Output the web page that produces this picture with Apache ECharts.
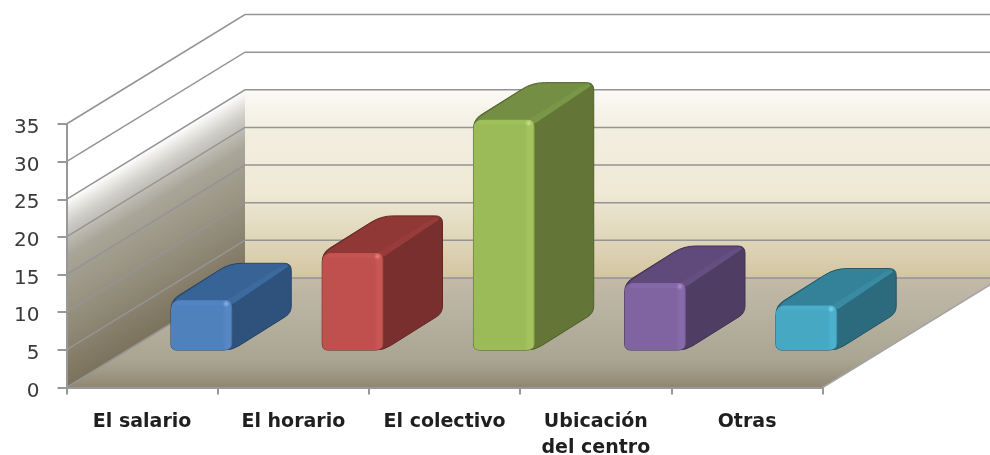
<!DOCTYPE html>
<html>
<head>
<meta charset="utf-8">
<style>html,body{margin:0;padding:0;background:#fff}#c{width:990px;height:455px}</style>
<script src="https://cdn.jsdelivr.net/npm/echarts@6/dist/echarts.min.js"></script>
</head>
<body>
<div id="c"></div>
<script>
const categories = ['El salario', 'El horario', 'El colectivo', 'Ubicación\ndel centro', 'Otras'];
const values = [6.6, 12.9, 30.6, 8.9, 5.9];
const yTicks = [0, 5, 10, 15, 20, 25, 30, 35];
const wallTop = 25;

const palettes = [
  {front:'#4f81bd', strip:'#5787c4', top:'#386396', ridge:'#3c699e', side:'#2f527c', edge:'#264468', spot:'#8fbdf0'},
  {front:'#c0504d', strip:'#c85653', top:'#8f3836', ridge:'#973c3a', side:'#782f2d', edge:'#622524', spot:'#f08a86'},
  {front:'#9bbb59', strip:'#a2c35e', top:'#748f43', ridge:'#7a9747', side:'#637637', edge:'#4f5f2b', spot:'#cfe890'},
  {front:'#8064a2', strip:'#876aaa', top:'#5f4a7b', ridge:'#654f82', side:'#4f3d64', edge:'#3f3050', spot:'#b39bd2'},
  {front:'#47a8c4', strip:'#4cb1cd', top:'#34829a', ridge:'#388ba3', side:'#2c6a7e', edge:'#235565', spot:'#8fdcf0'}
];
const depth = {dx: 178.5, dy: 109.5};
const bar = {shiftX: 59.5, shiftY: 37.5, widthRatio: 0.405, dx: 59, dy: 37};

function roundPoly(pts, radii) {
  const n = pts.length;
  let d = '';
  for (let i = 0; i < n; i++) {
    const p = pts[i], a = pts[(i + n - 1) % n], b = pts[(i + 1) % n];
    const r = Array.isArray(radii) ? radii[i] : radii;
    const la = Math.hypot(a[0] - p[0], a[1] - p[1]), lb = Math.hypot(b[0] - p[0], b[1] - p[1]);
    const ra = Math.min(r, la / 2), rb = Math.min(r, lb / 2);
    const s = [p[0] + (a[0] - p[0]) * ra / la, p[1] + (a[1] - p[1]) * ra / la];
    const e = [p[0] + (b[0] - p[0]) * rb / lb, p[1] + (b[1] - p[1]) * rb / lb];
    d += (i === 0 ? 'M' : 'L') + s[0].toFixed(2) + ' ' + s[1].toFixed(2) +
      'Q' + p[0].toFixed(2) + ' ' + p[1].toFixed(2) + ' ' + e[0].toFixed(2) + ' ' + e[1].toFixed(2);
  }
  return d + 'Z';
}
function face(pts, r, fill, extra) {
  return {type: 'path', shape: {pathData: roundPoly(pts, r)}, style: Object.assign({fill: fill}, extra || {})};
}
function grad(x, y, x2, y2, stops) {
  return {type: 'linear', global: true, x: x, y: y, x2: x2, y2: y2,
    colorStops: stops.map(s => ({offset: s[0], color: s[1]}))};
}

function renderWalls(params, api) {
  const cs = params.coordSys;
  const L = cs.x, R = cs.x + cs.width;
  const y0 = api.coord([0, 0])[1], yT = api.coord([0, wallTop])[1];
  const bx = L + depth.dx, by0 = y0 - depth.dy, byT = yT - depth.dy;
  const nx = 0.522, ny = 0.853, dist = (y0 - yT) * ny;
  return {type: 'group', children: [
    {type: 'polygon', shape: {points: [[L, yT], [bx, byT], [bx, by0], [L, y0]]},
      style: {fill: grad(L, yT, L + nx * dist, yT + ny * dist, [[0, '#ffffff'], [0.05, '#ecebe8'], [0.13, '#cfcec8'], [0.3, '#a9a699'], [0.6, '#96917f'], [1, '#7c725c']])}},
    {type: 'polygon', shape: {points: [[bx, byT], [R + depth.dx, byT], [R + depth.dx, by0], [bx, by0]]},
      style: {fill: grad(0, byT, 0, by0, [[0, '#fbfaf5'], [0.2, '#f2eee0'], [0.55, '#efe9d5'], [0.78, '#e0d7bb'], [1, '#d3c5a0']])}},
    {type: 'polygon', shape: {points: [[L, y0], [bx, by0], [R + depth.dx, by0], [R, y0]]},
      style: {fill: grad(0, by0, 0, y0, [[0, '#c3b9a7'], [0.4, '#b5b09e'], [0.75, '#aaa592'], [0.92, '#9a917c'], [1, '#8f8570']])}},
    {type: 'line', shape: {x1: R, y1: y0, x2: R + depth.dx, y2: by0}, style: {stroke: '#a3a3a3', lineWidth: 1.5}}
  ]};
}

function renderGridLine(params, api) {
  const cs = params.coordSys;
  const v = api.value(1);
  const y = api.coord([0, v])[1];
  const L = cs.x, R = cs.x + cs.width;
  return {type: 'polyline',
    shape: {points: [[L, y], [L + depth.dx, y - depth.dy], [R + depth.dx, y - depth.dy]]},
    style: {fill: 'none', stroke: '#949494', lineWidth: 1.5}};
}

function renderBar(params, api) {
  const i = api.value(0);
  const pal = palettes[i];
  const base = api.coord([i, 0]), head = api.coord([i, api.value(1)]);
  const w = api.size([1, 0])[0] * bar.widthRatio;
  const cx = base[0] + bar.shiftX;
  const L = cx - w / 2, Rx = cx + w / 2;
  const B = base[1] - bar.shiftY, T = head[1] - bar.shiftY;
  const dx = bar.dx, dy = bar.dy;
  const silhouette = [[L, B], [L, T], [L + dx, T - dy], [Rx + dx, T - dy], [Rx + dx, B - dy], [Rx, B]];
  return {type: 'group', children: [
    face(silhouette, [6, 9, 12, 7, 7, 8], pal.side, {stroke: pal.edge, lineWidth: 1}),
    face([[L + 1, T + 1], [L + dx, T - dy + 0.5], [Rx + dx - 0.5, T - dy + 0.5], [Rx, T + 2]], [8, 12, 7, 2], pal.top),
    face([[Rx - 9, T + 2], [Rx + dx - 9, T - dy + 2], [Rx + dx - 1, T - dy + 2], [Rx, T + 4]], [3, 4, 5, 3], pal.ridge),
    face([[L, T], [Rx, T], [Rx, B], [L, B]], [9, 8, 8, 6],
      grad(L, 0, Rx, 0, [[0, pal.front], [0.84, pal.front], [0.9, pal.strip], [0.97, pal.strip], [1, pal.ridge]])),
    face([[L + 5, T + 0.5], [Rx - 5, T + 0.5], [Rx - 5, T + 5], [L + 5, T + 5]], 3, pal.strip, {opacity: 0.6}),
    {type: 'circle', shape: {cx: Rx - 6, cy: T + 3.5, r: 3.5},
      style: {fill: {type: 'radial', x: 0.5, y: 0.5, r: 0.5, colorStops: [{offset: 0, color: pal.spot}, {offset: 1, color: pal.strip}]}, opacity: 0.85}}
  ]};
}

const chart = echarts.init(document.getElementById('c'), null, {renderer: 'canvas'});
chart.setOption({
  animation: false,
  backgroundColor: '#ffffff',
  grid: {left: 66.5, right: 167.3, top: 124, bottom: 67.5, containLabel: false, outerBoundsMode: 'none'},
  xAxis: {
    type: 'category', data: categories, z: 10,
    axisLine: {show: true, lineStyle: {color: '#989898', width: 2}},
    axisTick: {show: true, length: 7, lineStyle: {color: '#989898', width: 2}},
    axisLabel: {interval: 0, margin: 22, color: '#1f1f1f', fontFamily: 'DejaVu Sans', fontWeight: 'bold', fontSize: 19, lineHeight: 26}
  },
  yAxis: {
    type: 'value', min: 0, max: 35, interval: 5, z: 10,
    axisLine: {show: true, lineStyle: {color: '#989898', width: 2}},
    axisTick: {show: true, length: 9, lineStyle: {color: '#989898', width: 2}},
    splitLine: {show: false},
    axisLabel: {margin: 27, color: '#3a3a3a', fontFamily: 'DejaVu Sans', fontSize: 20, verticalAlign: 'top', lineHeight: 8}
  },
  series: [
    {type: 'custom', z: 1, clip: false, silent: true, renderItem: renderWalls, data: [[0, 0]]},
    {type: 'custom', z: 2, clip: false, silent: true, renderItem: renderGridLine, data: yTicks.map(t => [0, t])},
    {type: 'custom', z: 3, clip: false, silent: true, renderItem: renderBar, data: values.map((v, i) => [i, v])}
  ]
});
</script>
</body>
</html>
